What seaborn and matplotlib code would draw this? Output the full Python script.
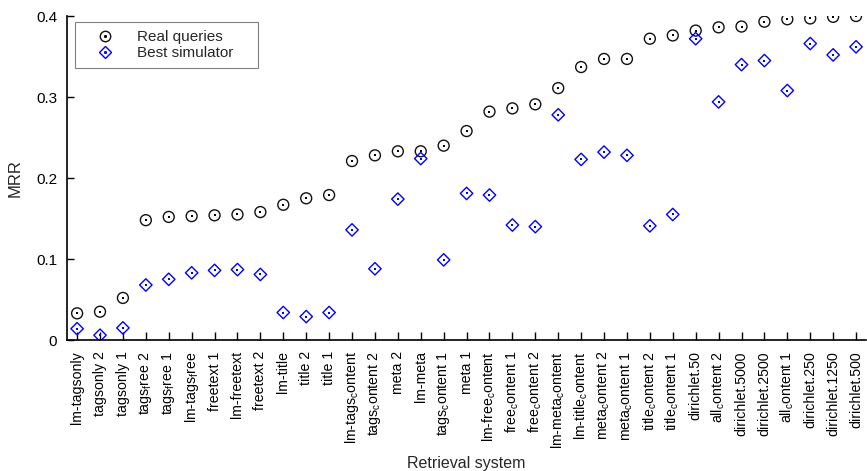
import matplotlib
matplotlib.use("Agg")
import matplotlib.pyplot as plt
import seaborn as sns
import pandas as pd
from matplotlib.legend_handler import HandlerTuple

# systems, ordered by MRR of the real queries
systems = [
    "lm-tagsonly", "tagsonly 2", "tagsonly 1", "tags$_\\mathrm{f}$ree 2", "tags$_\\mathrm{f}$ree 1",
    "lm-tags$_\\mathrm{f}$ree", "freetext 1", "lm-freetext", "freetext 2", "lm-title",
    "title 2", "title 1", "lm-tags$_\\mathrm{c}$ontent", "tags$_\\mathrm{c}$ontent 2", "meta 2",
    "lm-meta", "tags$_\\mathrm{c}$ontent 1", "meta 1", "lm-free$_\\mathrm{c}$ontent",
    "free$_\\mathrm{c}$ontent 1", "free$_\\mathrm{c}$ontent 2", "lm-meta$_\\mathrm{c}$ontent",
    "lm-title$_\\mathrm{c}$ontent", "meta$_\\mathrm{c}$ontent 2", "meta$_\\mathrm{c}$ontent 1",
    "title$_\\mathrm{c}$ontent 2", "title$_\\mathrm{c}$ontent 1", "dirichlet.50",
    "all$_\\mathrm{c}$ontent 2", "dirichlet.5000", "dirichlet.2500", "all$_\\mathrm{c}$ontent 1",
    "dirichlet.250", "dirichlet.1250", "dirichlet.500",
]

real_mrr = [
    0.033, 0.035, 0.052, 0.148, 0.152, 0.153, 0.154, 0.155, 0.158, 0.167,
    0.175, 0.179, 0.221, 0.228, 0.233, 0.233, 0.240, 0.258, 0.282, 0.286,
    0.291, 0.311, 0.337, 0.347, 0.347, 0.372, 0.376, 0.382, 0.386, 0.387,
    0.393, 0.396, 0.397, 0.399, 0.400,
]

sim_mrr = [
    0.014, 0.006, 0.015, 0.068, 0.075, 0.083, 0.086, 0.087, 0.081, 0.034,
    0.029, 0.034, 0.136, 0.088, 0.174, 0.224, 0.099, 0.181, 0.179, 0.142,
    0.140, 0.278, 0.223, 0.232, 0.228, 0.141, 0.155, 0.372, 0.294, 0.340,
    0.345, 0.308, 0.366, 0.352, 0.362,
]

df = pd.DataFrame({"pos": range(len(systems)), "real": real_mrr, "sim": sim_mrr})

sns.set_style("ticks")
plt.rcParams["font.family"] = ["Liberation Sans", "DejaVu Sans"]
plt.rcParams["mathtext.fontset"] = "custom"
plt.rcParams["mathtext.rm"] = "Liberation Sans"
plt.rcParams["mathtext.it"] = "Liberation Sans:italic"

fig = plt.figure(figsize=(8.67, 4.71), dpi=100)
ax = fig.add_axes([0.0773, 0.278, 0.9217, 0.688])

# open markers with a small dot in the middle, gnuplot style
sns.scatterplot(data=df, x="pos", y="real", ax=ax, marker="o", s=62,
                facecolors="none", edgecolor="#111111", linewidth=1.0)
sns.scatterplot(data=df, x="pos", y="real", ax=ax, marker="s", s=1.2,
                color="black", linewidth=0)
sns.scatterplot(data=df, x="pos", y="sim", ax=ax, marker="D", s=40,
                facecolors="none", edgecolor="blue", linewidth=1.0)
sns.scatterplot(data=df, x="pos", y="sim", ax=ax, marker="s", s=1.2,
                color="blue", linewidth=0)

ax.set_xlim(-0.44, len(systems) - 0.56)
ax.set_ylim(0, 0.4)
ax.set_yticks([0, 0.1, 0.2, 0.3, 0.4])
ax.set_yticklabels(["0", "0.1", "0.2", "0.3", "0.4"])
ax.set_xticks(range(len(systems)))
ax.set_xticklabels(systems, rotation=90)
ax.tick_params(axis="y", direction="in", length=5, width=1, labelsize=11,
               color="black", labelcolor="black", pad=7)
ax.tick_params(axis="x", direction="in", length=6, width=1, labelsize=10.2,
               color="black", labelcolor="black", pad=8)

for side in ["top", "right"]:
    ax.spines[side].set_visible(False)
for side in ["left", "bottom"]:
    ax.spines[side].set_linewidth(1.2)
    ax.spines[side].set_color("black")

ax.set_xlabel("Retrieval system", fontsize=11.5)
ax.xaxis.label.set_va("center")
ax.xaxis.set_label_coords(0.5, -0.38)
ax.set_ylabel("MRR", fontsize=12)
ax.yaxis.label.set_va("center")
ax.yaxis.set_label_coords(-0.065, 0.5)

# legend with the same dotted markers
h_real = (plt.Line2D([], [], ls="none", marker="o", ms=7.5, mfc="none", mec="#111111", mew=1.0),
          plt.Line2D([], [], ls="none", marker="s", ms=1.1, mfc="black", mec="black"))
h_sim = (plt.Line2D([], [], ls="none", marker="D", ms=6, mfc="none", mec="blue", mew=1.0),
         plt.Line2D([], [], ls="none", marker="s", ms=1.1, mfc="blue", mec="blue"))
leg = ax.legend([h_real, h_sim], ["Real queries", "Best simulator"],
                handler_map={tuple: HandlerTuple(ndivide=1)},
                loc="upper left", bbox_to_anchor=(0.01, 0.982, 0.229, 0.0), mode="expand",
                fontsize=11, frameon=True, fancybox=False, framealpha=1,
                edgecolor="gray", borderpad=0.55, labelspacing=0.12,
                handlelength=2.8, handletextpad=0.72, borderaxespad=0)
leg.get_frame().set_linewidth(0.8)

fig.savefig("out.png", dpi=100)
